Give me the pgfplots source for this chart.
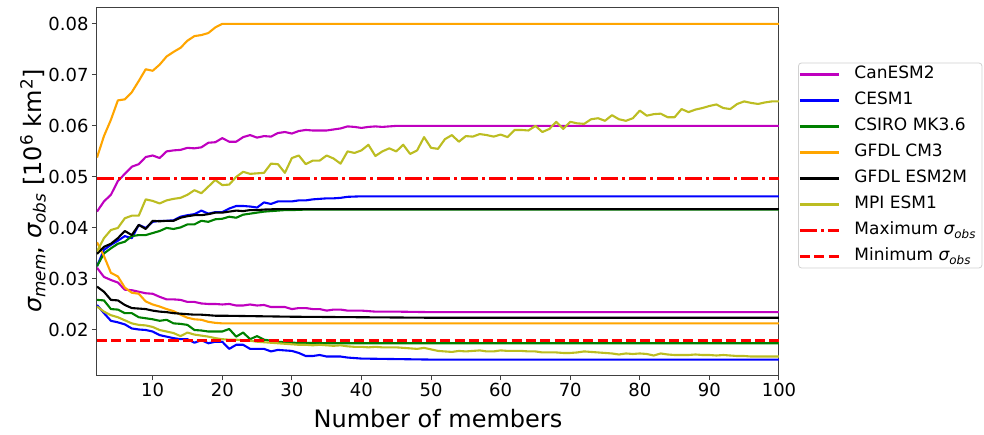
\documentclass[border=0pt]{standalone}
\usepackage{fontspec}
\setmainfont{DejaVu Sans}
\usepackage{pgfplots}
\pgfplotsset{compat=1.18}
\definecolor{colM}{RGB}{191,0,191}
\definecolor{colB}{RGB}{0,0,255}
\definecolor{colG}{RGB}{0,128,0}
\definecolor{colO}{RGB}{255,165,0}
\definecolor{colY}{RGB}{188,189,34}
\definecolor{colR}{RGB}{255,0,0}
\tikzset{ln/.style={line width=2.1pt, line join=round}}
\begin{document}
\begin{tikzpicture}
\begin{axis}[
  at={(0,0)}, anchor=south west, scale only axis,
  width=682pt, height=368pt,
  xmin=2, xmax=100, ymin=0.01118, ymax=0.0833,
  xtick={10,20,30,40,50,60,70,80,90,100},
  ytick={0.02,0.03,0.04,0.05,0.06,0.07,0.08},
  scaled y ticks=false,
  yticklabel style={/pgf/number format/.cd, fixed, fixed zerofill, precision=2, assume math mode=true},
  xticklabel style={/pgf/number format/assume math mode=true},
  tick label style={font=\fontsize{18}{21}\selectfont},
  tick align=outside, major tick length=5pt,
  tick style={line width=1pt, color=black!75},
  axis line style={line width=1pt, color=black!75},
  xtick pos=bottom, ytick pos=left,
  xlabel={Number of members},
  ylabel={{\itshape σ}\textsubscript{\itshape mem}, {\itshape σ}\textsubscript{\itshape obs} [10\textsuperscript{6} km\textsuperscript{2}]},
  label style={font=\fontsize{24}{28}\selectfont},
  xlabel style={at={(axis description cs:0.5,0)}, anchor=base, yshift=-52pt},
  ylabel style={at={(axis description cs:0,0.5)}, anchor=center, yshift=64pt},
  legend image code/.code={\draw[#1] (0pt,0pt) -- (39pt,0pt);},
  legend cell align=left,
  legend style={at={(axis description cs:1.028,0.849)}, anchor=north west,
    draw=black!18, line width=0.8pt, rounded corners=3pt, fill=white,
    font=\fontsize{17}{20}\selectfont, inner sep=0pt,
    nodes={text height=13pt, text depth=4pt, inner ysep=3pt, inner xsep=6pt},
    /tikz/every odd column/.append style={column sep=8pt},
    row sep=3pt},
]
% CanESM2
\addplot[ln, colM] coordinates {(2,0.0432)(3,0.0452)(4,0.0465)(5,0.0492)(6,0.0506)(7,0.0520)(8,0.0525)(9,0.0539)(10,0.0542)(11,0.0537)(12,0.0550)(13,0.0552)(14,0.0553)(15,0.0557)(16,0.0556)(17,0.0558)(18,0.0567)(19,0.0568)(20,0.0576)(21,0.0569)(22,0.0569)(23,0.0578)(24,0.0582)(25,0.0577)(26,0.0580)(27,0.0579)(28,0.0586)(29,0.0588)(30,0.0585)(31,0.0590)(32,0.0592)(33,0.0591)(34,0.0591)(35,0.0591)(36,0.0593)(37,0.0595)(38,0.0599)(39,0.0598)(40,0.0596)(41,0.0598)(42,0.0599)(43,0.0598)(44,0.0599)(45,0.0600)(100,0.0600)};
\addlegendentry{CanESM2}
\addplot[ln, colM, forget plot] coordinates {(2,0.0322)(3,0.0304)(4,0.0298)(5,0.0293)(6,0.0279)(7,0.0278)(8,0.0275)(9,0.0272)(10,0.0271)(11,0.0265)(12,0.0260)(13,0.0260)(14,0.0259)(15,0.0255)(16,0.0255)(17,0.0252)(18,0.0251)(19,0.0251)(20,0.0250)(21,0.0251)(22,0.0248)(23,0.0248)(24,0.0250)(25,0.0248)(26,0.0249)(27,0.0245)(28,0.0245)(29,0.0245)(30,0.0241)(31,0.0243)(32,0.0243)(33,0.0241)(34,0.0241)(35,0.0238)(36,0.0240)(37,0.0240)(38,0.0238)(39,0.0238)(40,0.0238)(42,0.0236)(45,0.0236)(50,0.0235)(100,0.0235)};
% CESM1
\addplot[ln, colB] coordinates {(2,0.0325)(3,0.0357)(4,0.0367)(5,0.0375)(6,0.0384)(7,0.0380)(8,0.0406)(9,0.0400)(10,0.0412)(11,0.0414)(12,0.0414)(13,0.0415)(14,0.0422)(15,0.0425)(16,0.0427)(17,0.0434)(18,0.0428)(19,0.0431)(20,0.0431)(21,0.0438)(22,0.0443)(23,0.0443)(24,0.0442)(25,0.0440)(26,0.0450)(27,0.0447)(28,0.0452)(29,0.0452)(30,0.0452)(31,0.0454)(32,0.0454)(33,0.0456)(34,0.0457)(35,0.0458)(36,0.0458)(37,0.0459)(38,0.0461)(40,0.0462)(100,0.0462)};
\addlegendentry{CESM1}
\addplot[ln, colB, forget plot] coordinates {(2,0.0249)(3,0.0233)(4,0.0218)(5,0.0215)(6,0.0211)(7,0.0203)(8,0.0201)(9,0.0200)(10,0.0197)(11,0.0190)(12,0.0187)(13,0.0184)(14,0.0182)(15,0.0182)(16,0.0175)(17,0.0180)(18,0.0174)(19,0.0177)(20,0.0177)(21,0.0163)(22,0.0171)(23,0.0171)(24,0.0163)(25,0.0163)(26,0.0163)(27,0.0158)(28,0.0161)(29,0.0160)(30,0.0159)(31,0.0155)(32,0.0149)(33,0.0149)(34,0.0151)(35,0.0148)(36,0.0148)(37,0.0148)(38,0.0146)(39,0.0145)(40,0.0144)(45,0.0143)(50,0.0142)(100,0.0142)};
% CSIRO
\addplot[ln, colG] coordinates {(2,0.0325)(3,0.0350)(4,0.0360)(5,0.0369)(6,0.0373)(7,0.0384)(8,0.0386)(9,0.0386)(10,0.0390)(11,0.0394)(12,0.0400)(13,0.0398)(14,0.0401)(15,0.0407)(16,0.0407)(17,0.0414)(18,0.0412)(19,0.0417)(20,0.0418)(21,0.0422)(22,0.0420)(23,0.0426)(24,0.0428)(25,0.0430)(26,0.0432)(27,0.0433)(28,0.0434)(29,0.0435)(30,0.0435)(32,0.0436)(100,0.0436)};
\addlegendentry{CSIRO MK3.6}
\addplot[ln, colG, forget plot] coordinates {(2,0.0259)(3,0.0258)(4,0.0241)(5,0.0240)(6,0.0233)(7,0.0233)(8,0.0225)(9,0.0223)(10,0.0221)(11,0.0218)(12,0.0220)(13,0.0213)(14,0.0212)(15,0.0210)(16,0.0200)(17,0.0199)(18,0.0197)(19,0.0197)(20,0.0197)(21,0.0202)(22,0.0187)(23,0.0195)(24,0.0182)(25,0.0188)(26,0.0181)(27,0.0179)(28,0.0177)(29,0.0176)(30,0.0175)(35,0.0174)(100,0.0174)};
% GFDL CM3
\addplot[ln, colO] coordinates {(2,0.0538)(3,0.0580)(4,0.0612)(5,0.0650)(6,0.0652)(7,0.0666)(8,0.0688)(9,0.0711)(10,0.0708)(11,0.0720)(12,0.0736)(13,0.0745)(14,0.0753)(15,0.0767)(16,0.0776)(17,0.0778)(18,0.0782)(19,0.0793)(20,0.0800)(100,0.0800)};
\addlegendentry{GFDL CM3}
\addplot[ln, colO, forget plot] coordinates {(2,0.0372)(3,0.0345)(4,0.0312)(5,0.0305)(6,0.0283)(7,0.0273)(8,0.0271)(9,0.0256)(10,0.0250)(11,0.0246)(12,0.0241)(13,0.0237)(14,0.0230)(15,0.0224)(16,0.0221)(17,0.0220)(18,0.0216)(19,0.0214)(20,0.0213)(100,0.0213)};
% GFDL ESM2M
\addplot[ln, black] coordinates {(2,0.0349)(3,0.0363)(4,0.0369)(5,0.0380)(6,0.0394)(7,0.0386)(8,0.0406)(9,0.0398)(10,0.0414)(11,0.0413)(12,0.0414)(13,0.0414)(14,0.0420)(15,0.0423)(16,0.0425)(17,0.0425)(18,0.0427)(19,0.0430)(20,0.0430)(21,0.0432)(22,0.0434)(23,0.0433)(24,0.0435)(25,0.0435)(26,0.0436)(28,0.0437)(100,0.0437)};
\addlegendentry{GFDL ESM2M}
\addplot[ln, black, forget plot] coordinates {(2,0.0285)(3,0.0275)(4,0.0259)(5,0.0258)(6,0.0249)(7,0.0243)(8,0.0242)(9,0.0241)(10,0.0238)(11,0.0236)(12,0.0235)(13,0.0233)(14,0.0232)(15,0.0231)(16,0.0230)(17,0.0230)(18,0.0229)(19,0.0228)(20,0.0228)(25,0.0227)(30,0.0226)(40,0.0225)(50,0.0224)(100,0.0224)};
% MPI ESM1
\addplot[ln, colY] coordinates {(2,0.0354)(3,0.0380)(4,0.0396)(5,0.0400)(6,0.0419)(7,0.0424)(8,0.0424)(9,0.0456)(10,0.0453)(11,0.0448)(12,0.0454)(13,0.0457)(14,0.0459)(15,0.0465)(16,0.0474)(17,0.0468)(18,0.0481)(19,0.0494)(20,0.0484)(21,0.0485)(22,0.0500)(23,0.0510)(24,0.0506)(25,0.0507)(26,0.0508)(27,0.0526)(28,0.0525)(29,0.0508)(30,0.0537)(31,0.0542)(32,0.0525)(33,0.0532)(34,0.0532)(35,0.0542)(36,0.0536)(37,0.0526)(38,0.0550)(39,0.0547)(40,0.0552)(41,0.0563)(42,0.0541)(43,0.0550)(44,0.0556)(45,0.0550)(46,0.0563)(47,0.0545)(48,0.0552)(49,0.0578)(50,0.0557)(51,0.0555)(52,0.0574)(53,0.0582)(54,0.0569)(55,0.0580)(56,0.0579)(57,0.0584)(58,0.0582)(59,0.0579)(60,0.0583)(61,0.0578)(62,0.0592)(63,0.0592)(64,0.0591)(65,0.0600)(66,0.0588)(67,0.0594)(68,0.0608)(69,0.0594)(70,0.0608)(71,0.0605)(72,0.0604)(73,0.0613)(74,0.0615)(75,0.0610)(76,0.0621)(77,0.0613)(78,0.0610)(79,0.0615)(80,0.0630)(81,0.0620)(82,0.0623)(83,0.0624)(84,0.0617)(85,0.0617)(86,0.0633)(87,0.0627)(88,0.0632)(89,0.0635)(90,0.0639)(91,0.0642)(92,0.0635)(93,0.0633)(94,0.0643)(95,0.0648)(96,0.0645)(97,0.0643)(98,0.0646)(99,0.0648)(100,0.0648)};
\addlegendentry{MPI ESM1}
\addplot[ln, colY, forget plot] coordinates {(2,0.0246)(3,0.0236)(4,0.0229)(5,0.0225)(6,0.0219)(7,0.0213)(8,0.0210)(9,0.0209)(10,0.0206)(11,0.0200)(12,0.0197)(13,0.0194)(14,0.0188)(15,0.0195)(16,0.0191)(17,0.0189)(18,0.0187)(19,0.0184)(20,0.0182)(21,0.0181)(22,0.0181)(23,0.0180)(24,0.0179)(25,0.0177)(26,0.0176)(27,0.0175)(28,0.0174)(29,0.0173)(30,0.0172)(31,0.0171)(32,0.0171)(33,0.0170)(34,0.0171)(35,0.0170)(36,0.0169)(37,0.0170)(38,0.0168)(39,0.0167)(40,0.0167)(41,0.0166)(42,0.0167)(43,0.0166)(44,0.0166)(45,0.0166)(46,0.0165)(47,0.0164)(48,0.0163)(49,0.0165)(50,0.0162)(51,0.0159)(52,0.0158)(53,0.0157)(54,0.0159)(55,0.0158)(56,0.0159)(57,0.0160)(58,0.0158)(59,0.0158)(60,0.0160)(61,0.0159)(62,0.0159)(63,0.0159)(64,0.0158)(65,0.0158)(66,0.0156)(67,0.0156)(68,0.0156)(69,0.0155)(70,0.0155)(71,0.0156)(72,0.0158)(73,0.0157)(74,0.0156)(75,0.0155)(76,0.0154)(77,0.0152)(78,0.0154)(79,0.0153)(80,0.0154)(81,0.0153)(82,0.0150)(83,0.0154)(84,0.0152)(85,0.0151)(86,0.0151)(87,0.0151)(88,0.0152)(89,0.0151)(90,0.0151)(91,0.0150)(92,0.0151)(93,0.0150)(94,0.0149)(95,0.0149)(96,0.0148)(97,0.0148)(98,0.0148)(99,0.0148)(100,0.0148)};
% observations
\addplot[colR, line width=3pt, dash pattern=on 17pt off 4.2pt on 2.6pt off 4.2pt] coordinates {(2,0.0496)(100,0.0496)};
\addlegendentry{Maximum {\itshape σ}\textsubscript{\itshape obs}}
\addplot[colR, line width=3pt, dash pattern=on 10pt off 4.3pt] coordinates {(2,0.0179)(100,0.0179)};
\addlegendentry{Minimum {\itshape σ}\textsubscript{\itshape obs}}
\end{axis}
\pgfresetboundingbox
\useasboundingbox (-97pt,-59pt) rectangle (887pt,375pt);
\end{tikzpicture}
\end{document}
